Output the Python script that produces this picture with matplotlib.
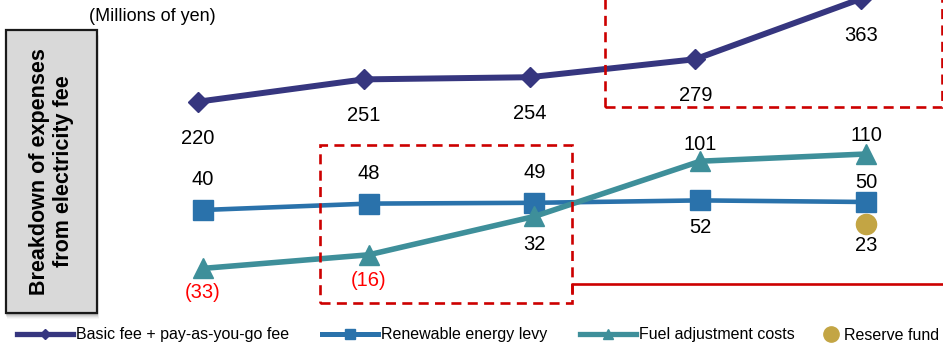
import matplotlib.pyplot as plt
from matplotlib.lines import Line2D
from matplotlib.patches import Rectangle

plt.rcParams['font.family'] = ['Liberation Sans', 'DejaVu Sans']

# five fiscal periods along the x axis
periods = [0, 1, 2, 3, 4]
basic_fee = [220, 251, 254, 279, 363]
renewable_levy = [40, 48, 49, 52, 50]
fuel_adjustment = [-33, -16, 32, 101, 110]
reserve_period = [4]
reserve_fund = [23]

series_names = ['Basic fee + pay-as-you-go fee', 'Renewable energy levy',
                'Fuel adjustment costs', 'Reserve fund']

c_basic = '#36367f'
c_renew = '#2a72ab'
c_fuel = '#3e8f9a'
c_reserve = '#c3a544'
c_red = '#cc0000'

W, H = 943, 347


def px(x, y):
    # pixel position (from top-left) -> figure fraction
    return x / W, (H - y) / H


def fmt(v):
    return '(%d)' % -v if v < 0 else '%d' % v


fig = plt.figure(figsize=(W / 100, H / 100), dpi=100)

# lower series share one scale, basic fee sits on its own broken scale
ax = fig.add_axes([0, 0, 1, 1])
ax.axis('off')
ax.set_xlim(-1.2247, 4.4646)
ax.set_ylim(-131.25, 302.5)

ax_top = fig.add_axes([0, 0, 1, 1])
ax_top.axis('off')
ax_top.set_xlim(-1.1946, 4.4947)
ax_top.set_ylim(-120.7, 361.25)

ax.plot(periods, renewable_levy, color=c_renew, lw=3.3, marker='s', ms=14,
        mec=c_renew, solid_joinstyle='round')
ax.plot(periods, fuel_adjustment, color=c_fuel, lw=4.0, marker='^', ms=14.5,
        mec=c_fuel, solid_joinstyle='round')
ax.plot(reserve_period, reserve_fund, linestyle='none', marker='o', ms=14.5,
        color=c_reserve)
ax_top.plot(periods, basic_fee, color=c_basic, lw=4.3, marker='D', ms=10.5,
            mec=c_basic, solid_joinstyle='round', clip_on=False)

# value labels, offsets in pixels of the baseline from the marker centre
renew_off = [25, 25, 25, -33, 14.5]
fuel_off = [-29.5, -31.5, -33.6, 11.3, 13]
lab_kw = dict(textcoords='offset points', ha='center', va='baseline',
              fontsize=14.5, annotation_clip=False)

for x, v in zip(periods, basic_fee):
    ax_top.annotate(fmt(v), (x, v), xytext=(0, -42 * 0.72), **lab_kw)
for x, v, o in zip(periods, renewable_levy, renew_off):
    ax.annotate(fmt(v), (x, v), xytext=(0, o * 0.72), **lab_kw)
for x, v, o in zip(periods, fuel_adjustment, fuel_off):
    ax.annotate(fmt(v), (x, v), xytext=(0, o * 0.72),
                color='#ff0000' if v < 0 else 'black', **lab_kw)
for x, v in zip(reserve_period, reserve_fund):
    ax.annotate(fmt(v), (x, v), xytext=(0, -27 * 0.72), **lab_kw)

# red dashed highlight boxes and the solid bracket line
dash = (0, (3.8, 2.4))
for x0, y0, x1, y1 in [(320, 145, 572, 303), (605, -10, 942, 107)]:
    fx0, fy1 = px(x0, y1)
    fx1, fy0 = px(x1, y0)
    fig.add_artist(Rectangle((fx0, fy1), fx1 - fx0, fy0 - fy1, fill=False,
                             ec=c_red, lw=1.9, linestyle=dash,
                             transform=fig.transFigure, zorder=5))
xs, ys = zip(*[px(572, 293), px(572, 284), px(943, 284)])
fig.add_artist(Line2D(xs, ys, color=c_red, lw=1.9,
                      transform=fig.transFigure, zorder=5))

# grey title box with a soft shadow
bx0, by0, bx1, by1 = 6, 30, 97, 313
for i, a in enumerate([0.10, 0.08, 0.06, 0.04, 0.03]):
    d = i + 2
    sx, sy = px(bx0 - 1 + d * 0.3, by1 + d)
    ex, ey = px(bx1 + d * 0.3, by0 + d)
    fig.add_artist(Rectangle((sx, sy), ex - sx, ey - sy, fc='black', ec='none',
                             alpha=a, transform=fig.transFigure, zorder=6))
fx0, fy1 = px(bx0, by1)
fx1, fy0 = px(bx1, by0)
fig.add_artist(Rectangle((fx0, fy1), fx1 - fx0, fy0 - fy1, fc='#d9d9d9',
                         ec='#1a1a1a', lw=1.6, transform=fig.transFigure,
                         zorder=7))
cx, cy = px((bx0 + bx1) / 2, (by0 + by1) / 2)
fig.text(cx, cy, 'Breakdown of expenses\nfrom electricity fee', rotation=90,
         ha='center', va='center', fontsize=15.5, fontweight='bold',
         linespacing=1.2, zorder=8)

tx, ty = px(152, 16.5)
fig.text(tx, ty, '(Millions of yen)', ha='center', va='center', fontsize=13)

# legend along the bottom
handles = [
    Line2D([], [], color=c_basic, lw=3.8, marker='D', ms=5.5),
    Line2D([], [], color=c_renew, lw=3.6, marker='s', ms=7.5),
    Line2D([], [], color=c_fuel, lw=3.8, marker='^', ms=6.5),
]
lx, ly = px(17, 335)
fig.legend(handles, series_names[:3], loc='center left', bbox_to_anchor=(lx, ly),
           ncol=3, frameon=False, fontsize=11.5, handlelength=3.5,
           handletextpad=0.2, columnspacing=2.06, borderpad=0, borderaxespad=0)
rx, ry = px(822, 335)
fig.legend([Line2D([], [], linestyle='none', marker='o', ms=11, color=c_reserve)],
           series_names[3:], loc='center left', bbox_to_anchor=(rx, ry),
           frameon=False, fontsize=11.5, handlelength=1.1, handletextpad=0.3,
           borderpad=0, borderaxespad=0)

fig.savefig('out.png', dpi=100)
